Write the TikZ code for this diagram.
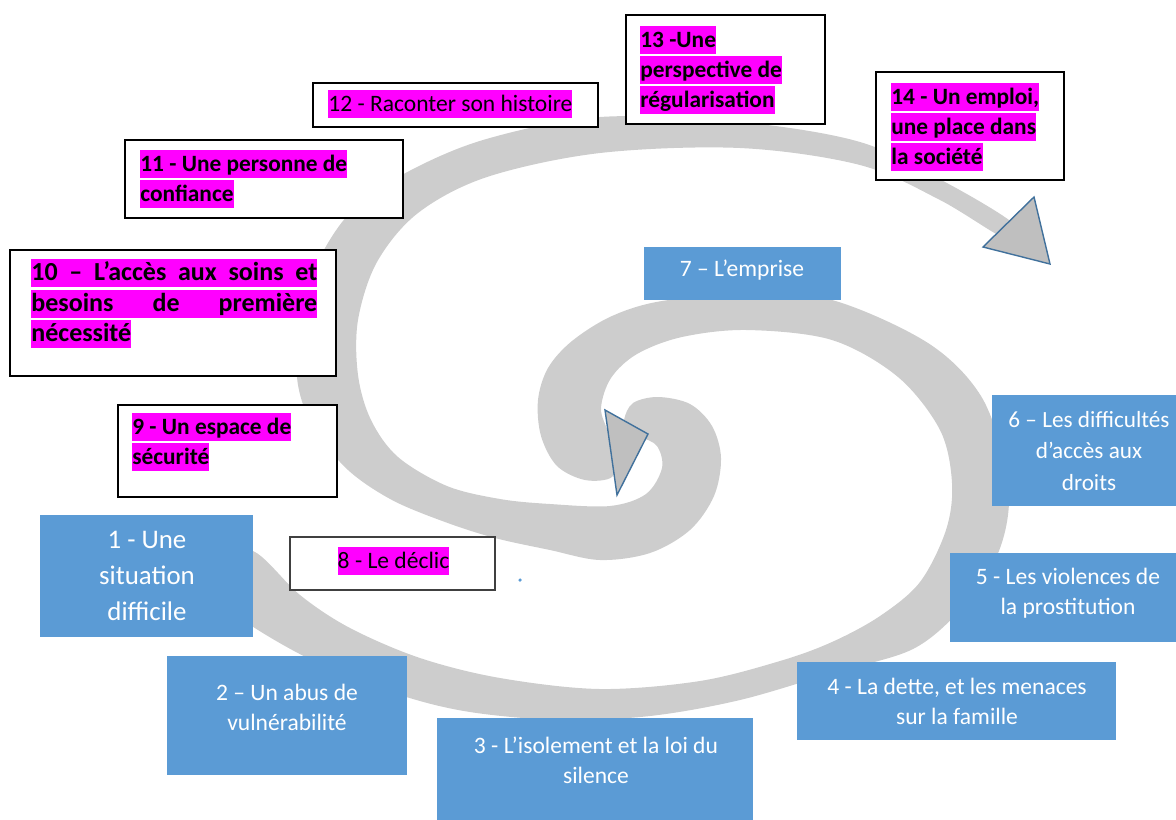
\documentclass[tikz,border=0pt]{standalone}
\usepackage{fontspec}
\setmainfont{Carlito}
\usetikzlibrary{positioning}
\definecolor{boxblue}{HTML}{5B9BD5}
\definecolor{hlpink}{HTML}{FF00FF}
\definecolor{spiralgray}{RGB}{205,205,205}
\definecolor{arrowgray}{RGB}{191,191,191}
\definecolor{arrowblue}{HTML}{41719C}
\setlength{\fboxsep}{0pt}
\newcommand{\hl}[1]{\colorbox{hlpink}{\rule[-3.5pt]{0pt}{15.8pt}#1}}
\newcommand{\hlj}[1]{\colorbox{hlpink}{\rule[-3.5pt]{0pt}{15.8pt}\makebox[5.72cm][s]{#1}}}

\begin{document}
\begin{tikzpicture}[x=0.02cm, y=-0.02cm,
  wbox/.style={draw=black, line width=0.85pt, fill=white, inner sep=0pt},
  bbox/.style={fill=boxblue, inner sep=0pt},
  hltext/.style={anchor=north west, inner sep=0pt, align=left, font=\bfseries\fontsize{13.3}{17}\selectfont},
  hlreg/.style={inner sep=0pt, font=\fontsize{13.4}{17}\selectfont},
  btext/.style={text=white, align=center, inner sep=0pt, font=\fontsize{13.4}{17}\selectfont},
  tri/.style={fill=arrowgray, draw=arrowblue, line width=0.8pt}]

  \useasboundingbox (0,0) rectangle (1176,819);

  \fill[spiralgray] plot[smooth cycle, tension=0.55] coordinates {
    (624,420) (633,403) (658,397) (690,404) (712,426) (721,458) (714,496) (690,530)
    (650,553) (600,560) (550,550) (495,538) (445,522) (392,500) (348,470) (314,428)
    (298,385) (298,330) (314,270) (348,215) (400,176) (483,140) (600,117) (740,122)
    (860,142) (945,182) (1014,224)
    (1008,240) (940,200) (860,165) (740,148) (600,153) (487,177) (418,213) (377,262)
    (358,320) (358,375) (371,420) (398,457) (447,486) (500,499) (550,504) (610,506)
    (646,494) (662,468) (657,446) (640,437) (627,434)};
  \fill[spiralgray] plot[smooth cycle, tension=0.55] coordinates {
    (612,477) (585,480) (557,466) (541,436) (538,400) (548,368) (572,341) (612,316)
    (662,301) (747,294) (832,300) (928,343) (981,396) (1006,468) (1008,515) (995,560)
    (963,607) (913,649) (832,673) (740,700) (650,716) (560,720) (470,712) (400,695)
    (320,664) (258,630) (215,598) (195,570)
    (215,548) (255,552) (300,595) (350,628) (420,658) (500,678) (600,689) (700,681)
    (780,661) (832,642) (880,616) (920,582) (946,530) (952,483) (940,430) (898,377)
    (832,340) (747,330) (682,337) (637,354) (611,378) (601,408) (608,432) (614,455)};

  \filldraw[tri] (605,410) -- (648,434) -- (617,495) -- cycle;
  \filldraw[tri] (983,247) -- (1034,197) -- (1050,264) -- cycle;

  \node[bbox, minimum width=4.26cm, minimum height=2.44cm] (s1) at (146.5,576) {};
  \node[bbox, minimum width=4.8cm, minimum height=2.38cm] (s2) at (287,715.5) {};
  \node[bbox, minimum width=6.32cm, minimum height=2.24cm] (s3) at (595,774) {};
  \node[bbox, minimum width=6.38cm, minimum height=1.56cm] (s4) at (956.5,701) {};
  \node[bbox, minimum width=4.72cm, minimum height=1.78cm] (s5) at (1068,597.5) {};
  \node[bbox, minimum width=3.88cm, minimum height=2.22cm] (s6) at (1089,450.5) {};
  \node[bbox, minimum width=3.94cm, minimum height=1.06cm] (s7) at (742.5,273.5) {};

  \node[btext, font=\fontsize{15.3}{20.4}\selectfont] (l1) at (147,576) {1 - Une\\situation\\difficile};
  \node[btext] (l2) at (287,707) {2 – Un abus de\\vulnérabilité};
  \node[btext] (l3) at (596,760.5) {3 - L’isolement et la loi du\\silence};
  \node[btext] (l4) at (957,701) {4 - La dette, et les menaces\\sur la famille};
  \node[btext] (l5) at (1068,593) {5 - Les violences de\\la prostitution};
  \node[btext, font=\fontsize{13.2}{18.1}\selectfont] (l6) at (1089,451) {6 – Les difficultés\\d’accès aux\\droits};
  \node[btext] (l7) at (742,270) {7 – L’emprise};

  \node[wbox, draw=black!75, minimum width=4.1cm, minimum height=1.06cm] (s8) at (392.5,563.5) {};
  \node[wbox, minimum width=4.38cm, minimum height=1.84cm] (s9) at (227.5,451) {};
  \node[wbox, line width=1.4pt, minimum width=6.52cm, minimum height=2.52cm] (s10) at (173,313) {};
  \node[wbox, minimum width=5.56cm, minimum height=1.56cm] (s11) at (264,179) {};
  \node[wbox, minimum width=5.7cm, minimum height=0.88cm] (s12) at (455.5,105) {};
  \node[wbox, minimum width=3.98cm, minimum height=2.18cm] (s13) at (725.5,69.5) {};
  \node[wbox, minimum width=3.76cm, minimum height=2.16cm] (s14) at (970,126) {};

  \node[hlreg] (l8) at (393.5,561) {\hl{8 - Le déclic}};
  \node[hltext] (l9) at (132,413) {\hl{9 - Un espace de}\\\hl{sécurité}};
  \node[hltext, font=\bfseries\fontsize{14.8}{17.3}\selectfont] (l10) at (31,259) {\hlj{10 – L’accès aux soins et}\\\hlj{besoins de première}\\\hl{nécessité}};
  \node[hltext] (l11) at (140,150) {\hl{11 - Une personne de}\\\hl{confiance}};
  \node[hlreg, anchor=north west] (l12) at (328,90) {\hl{12 - Raconter son histoire}};
  \node[hltext] (l13) at (640,26) {\hl{13 -Une}\\\hl{perspective de}\\\hl{régularisation}};
  \node[hltext] (l14) at (891,83) {\hl{14 - Un emploi,}\\\hl{une place dans}\\\hl{la société}};

  \fill[boxblue] (520,580) circle (1pt);

\end{tikzpicture}
\end{document}
